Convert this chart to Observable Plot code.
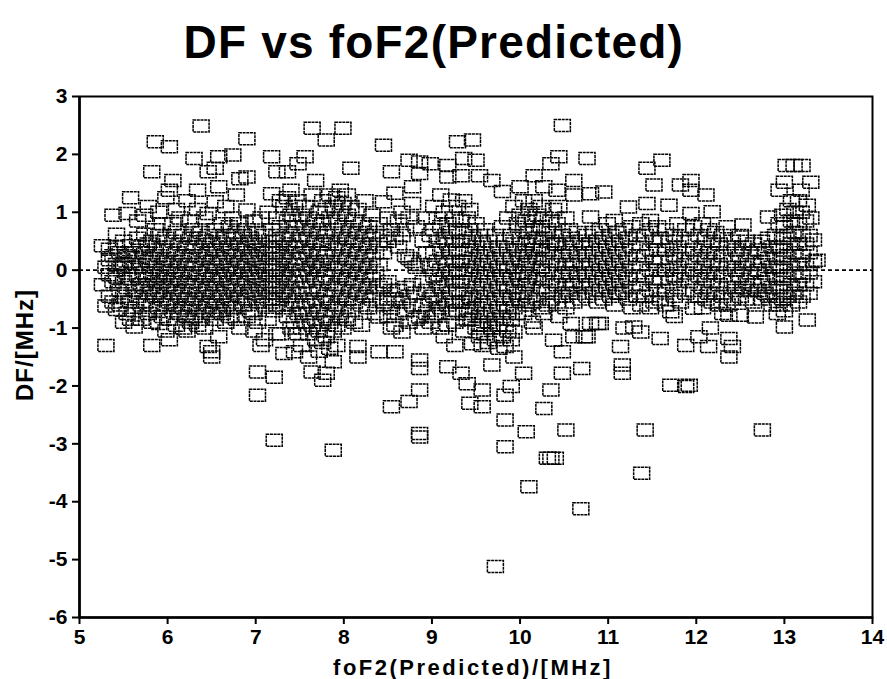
<!DOCTYPE html>
<html>
<head>
<meta charset="utf-8">
<script src="https://cdn.jsdelivr.net/npm/d3@7"></script>
<script src="https://cdn.jsdelivr.net/npm/@observablehq/plot@0.6"></script>
<style>
  html, body { margin: 0; padding: 0; background: #fff; }
  #chart { width: 887px; height: 679px; }
</style>
</head>
<body>
<div id="chart"></div>
<script>
// ---- Data: foF2 (predicted, MHz) columns, each with the DF values (MHz) read at that foF2 ----
const titleText = "DF vs foF2(Predicted)";
const xLabel = "foF2(Predicted)/[MHz]";
const yLabel = "DF/[MHz]";
const xTicks = [5, 6, 7, 8, 9, 10, 11, 12, 13, 14];
const yTicks = [-6, -5, -4, -3, -2, -1, 0, 1, 2, 3];

const band5 = [
  [5.26, [0.42, -0.25]],
  [5.30, [-0.62, 0.05, -1.30]],
  [5.34, [0.36, -0.45, 0.18, -0.08]],
  [5.38, [-0.55, 0.25, -0.2, 0.95]],
  [5.42, [0.62, -0.12, -0.68, 0.1, 0.4]],
  [5.46, [-0.35, 0.05, 0.3, -0.6]],
  [5.50, [0.5, -0.2, 0.12, -0.45, -0.9]],
  [5.54, [0.25, -0.05, -0.3, 0.98, -0.75]],
  [5.58, [1.25, 0.42, -0.15, 0.15, -0.55, -0.85]],
  [5.62, [0.05, -0.35, 0.3, -0.7, -0.98]],
  [5.66, [0.55, 0.22, -0.1, -0.45, 0.85]],
  [5.70, [-0.25, 0.1, 0.4, -0.6, -0.85]],
  [5.74, [0.62, 0.3, -0.05, -0.3, -0.55, 0.95]],
  [5.78, [1.1, 0.15, -0.15, -0.4, -0.75, 0.45]],
  [5.82, [0.5, 0.2, -0.05, -0.3, -0.6, -0.9, 1.7, -1.3]],
  [5.86, [0.35, 0.05, -0.2, -0.45, 0.7, 2.22]],
  [5.90, [0.6, 0.25, -0.1, -0.35, -0.65, -0.92, 1.0]],
  [5.94, [0.4, 0.1, -0.2, -0.5, -0.8, 0.8]],
  [5.98, [0.55, 0.2, -0.05, -0.3, -0.6, -1.05, 1.25]]
];

const band6 = [
  [6.02, [2.13, 1.38, 0.35, 0.05, -0.25, -0.55, -0.85, -1.2]],
  [6.06, [1.55, 0.8, 0.5, 0.15, -0.15, -0.4, -0.7]],
  [6.10, [0.65, 0.3, 0.0, -0.3, -0.6, -0.95, 1.05]],
  [6.14, [0.45, 0.15, -0.15, -0.45, -0.75, 0.9]],
  [6.18, [0.6, 0.25, -0.05, -0.35, -0.65, -1.0]],
  [6.22, [0.4, 0.1, -0.2, -0.5, -0.8, -1.05, 1.2]],
  [6.26, [0.55, 0.25, -0.05, -0.3, -0.6, -0.9, 0.85]],
  [6.30, [1.93, 0.7, 0.4, 0.1, -0.2, -0.5, -0.8]],
  [6.34, [1.38, 0.55, 0.25, -0.05, -0.35, -0.65, -0.95, 1.05]],
  [6.38, [2.49, 0.65, 0.35, 0.05, -0.25, -0.55, -0.85]],
  [6.42, [0.5, 0.2, -0.1, -0.4, -0.7, -1.0, 0.9]],
  [6.46, [1.7, 0.98, 0.6, 0.3, 0.0, -0.3, -0.6, -1.32]],
  [6.50, [0.45, 0.15, -0.15, -0.45, -0.75, -1.5, -1.41]],
  [6.54, [1.76, 1.18, 0.7, 0.35, 0.05, -0.25, -0.55, -0.85]],
  [6.58, [1.96, 1.44, 0.55, 0.2, -0.1, -0.4, -0.7, -1.15]],
  [6.62, [0.8, 0.45, 0.15, -0.15, -0.45, -0.75]],
  [6.66, [1.1, 0.6, 0.3, 0.0, -0.3, -0.6, -0.9]],
  [6.70, [0.75, 0.4, 0.1, -0.2, -0.5, -0.8]],
  [6.74, [1.99, 0.9, 0.55, 0.25, -0.05, -0.35, -0.65]],
  [6.78, [1.3, 0.65, 0.35, 0.05, -0.25, -0.55, -0.85]],
  [6.82, [1.58, 0.8, 0.45, 0.15, -0.15, -0.45, -1.0]],
  [6.86, [0.6, 0.3, 0.0, -0.3, -0.6]],
  [6.90, [2.27, 1.61, 1.04, 0.7, 0.4, 0.1, -0.2, -0.5, -0.8]],
  [6.94, [0.55, 0.25, -0.05, -0.35, -0.7]],
  [6.98, [0.85, 0.5, 0.2, -0.1, -0.4, -0.75, -1.05]]
];

const band7 = [
  [7.02, [0.65, 0.35, 0.05, -0.25, -0.55, -0.9, -2.16, -1.76]],
  [7.06, [0.9, 0.45, 0.15, -0.15, -0.45, -1.3]],
  [7.10, [0.6, 0.3, 0.0, -0.3, -0.6, -1.2]],
  [7.14, [1.0, 0.4, 0.1, -0.2, -0.5, -0.85]],
  [7.18, [1.96, 1.32, 0.7, 0.35, 0.05, -0.25, -0.55]],
  [7.21, [-2.94, -1.85, 0.5, 0.2, -0.1, -0.4, -0.7]],
  [7.24, [1.7, 0.9, 0.6, 0.3, 0.0, -0.3, -0.6, -1.1]],
  [7.28, [1.2, 0.75, 0.4, 0.1, -0.2, -0.5, -1.1]],
  [7.32, [1.1, 0.55, 0.25, -0.05, -0.35, -0.65, -1.44]],
  [7.36, [1.7, 1.25, 0.85, 0.45, 0.15, -0.15, -0.45, -0.8]],
  [7.40, [1.38, 0.95, 0.6, 0.3, 0.0, -0.3, -0.6, -1.0]],
  [7.44, [1.1, 0.75, 0.4, 0.1, -0.2, -0.55, -0.9, -1.41]],
  [7.48, [1.84, 1.2, 0.85, 0.5, 0.2, -0.1, -0.4, -0.75, -1.1]],
  [7.52, [0.95, 0.6, 0.3, 0.0, -0.3, -0.65, -1.0, -1.3]],
  [7.56, [1.96, 1.1, 0.75, 0.4, 0.1, -0.2, -0.55, -0.9]],
  [7.60, [0.9, 0.55, 0.25, -0.05, -0.4, -0.75, -1.1, -1.5]],
  [7.64, [2.45, 1.3, 0.7, 0.35, 0.05, -0.3, -0.6, -0.95, -1.76]],
  [7.68, [1.55, 0.85, 0.5, 0.15, -0.15, -0.5, -0.85, -1.2]],
  [7.72, [1.0, 0.65, 0.3, 0.0, -0.35, -0.7, -1.05, -1.4]],
  [7.76, [-1.9, 1.2, 0.8, 0.45, 0.1, -0.2, -0.55, -0.9, -1.25]],
  [7.80, [2.25, 1.05, 0.6, 0.25, -0.1, -0.45, -0.8, -1.15, -1.78]],
  [7.84, [1.3, 0.9, 0.5, 0.15, -0.2, -0.55, -0.9, -1.35]],
  [7.88, [-3.11, -1.58, 1.1, 0.7, 0.35, 0.0, -0.35, -0.7, -1.05]],
  [7.92, [1.25, 0.85, 0.45, 0.1, -0.25, -0.6, -0.95, -1.3]],
  [7.96, [1.38, 1.0, 0.6, 0.25, -0.1, -0.45, -0.8]],
  [7.99, [2.45, 1.15, 0.75, 0.4, 0.05, -0.3, -0.65, -1.0]]
];

const band8 = [
  [8.04, [1.3, 0.95, 0.55, 0.2, -0.15, -0.5, -0.85]],
  [8.08, [1.76, 1.1, 0.7, 0.35, 0.0, -0.35, -0.7]],
  [8.12, [0.85, 0.5, 0.15, -0.2, -0.55, -0.9]],
  [8.16, [1.05, 0.65, 0.3, -0.05, -0.4, -1.32, -1.5]],
  [8.20, [0.8, 0.45, 0.1, -0.25, -0.6, -0.95]],
  [8.24, [1.2, 0.6, 0.25, -0.1, -0.45]],
  [8.28, [0.75, 0.4, 0.05, -0.3, -0.65]],
  [8.32, [0.95, 0.55, 0.2, -0.15, -0.5]],
  [8.36, [0.65, 0.3, -0.05, -0.4, -0.75]],
  [8.40, [0.8, 0.45, 0.1, -0.3, -0.81, -1.41]],
  [8.45, [2.16, 1.18, 0.6, 0.3, -0.25, -0.55]],
  [8.50, [0.9, 0.5, -0.2, -0.5, -0.8]],
  [8.54, [1.7, 0.7, -0.35, -0.65, -1.0, -2.36]],
  [8.58, [1.33, 0.55, -0.5, -0.95, -1.41]],
  [8.62, [0.85, 0.4, -0.35, -0.75]],
  [8.66, [1.0, 0.6, -0.55, -1.07]],
  [8.70, [0.7, 0.25, -0.3, -0.7]],
  [8.74, [1.9, 0.9, 0.2, -0.45, -0.9, -2.27]],
  [8.78, [1.44, 1.15, 0.15, -0.25, -0.6]],
  [8.82, [0.75, 0.05, -0.4, -0.85]],
  [8.86, [1.87, 1.67, -2.07, -2.82, -2.88, -1.55, -1.7, -0.81, 0.1]],
  [8.90, [0.5, -0.2, -0.6, -1.0]],
  [8.94, [0.9, 0.3, -0.35, -0.75]],
  [8.98, [1.84, 0.6, 0.05, -0.5, -0.9]]
];

const band9 = [
  [9.02, [1.1, 0.7, 0.3, -0.1, -0.45, -0.8]],
  [9.06, [0.9, 0.5, 0.15, -0.2, -0.55, -0.75]],
  [9.10, [1.3, 0.75, 0.35, 0.0, -0.29, -0.65, -1.0]],
  [9.14, [1.0, 0.55, 0.2, -0.15, -0.5, -1.15]],
  [9.18, [1.81, 1.61, 0.8, 0.45, 0.1, -0.25, -0.6, -0.95, -1.67]],
  [9.22, [1.21, 0.65, 0.3, -0.05, -0.4, -0.75]],
  [9.26, [0.9, 0.5, 0.15, -0.2, -0.55, -0.9, -1.3]],
  [9.29, [2.22, 1.1, 0.7, 0.35, 0.0, -0.35, -0.7]],
  [9.33, [1.63, 0.85, 0.5, 0.15, -0.2, -0.55, -1.78]],
  [9.36, [1.93, 1.2, 0.65, 0.3, -0.05, -0.4, -0.75, -1.05]],
  [9.40, [0.9, 0.5, 0.15, -0.2, -0.55, -0.86, -1.96]],
  [9.43, [-2.30, -0.46, 1.05, 0.7, 0.35, 0.0, -0.7]],
  [9.46, [2.25, -1.27, 0.55, 0.2, -0.15, -0.5, -0.85]],
  [9.50, [1.9, 0.8, 0.4, 0.05, -0.3, -0.65, -1.0]],
  [9.54, [1.63, 0.6, 0.25, -0.1, -0.45, -0.8, -0.95, -1.15]],
  [9.57, [-2.36, -2.07, 0.45, 0.1, -0.25, -0.6, -0.95, -1.3]],
  [9.60, [0.7, 0.3, -0.05, -0.4, -0.75, -1.1]],
  [9.64, [0.5, 0.15, -0.2, -0.55, -0.9, -1.25]],
  [9.68, [1.55, 0.35, 0.0, -0.35, -0.7, -1.0, -1.64]],
  [9.72, [-5.12, 0.6, 0.2, -0.15, -0.5, -0.85, -1.2]],
  [9.76, [0.4, 0.05, -0.3, -0.65, -0.95, -1.35]],
  [9.80, [1.36, 0.75, 0.25, -0.1, -0.45, -0.8, -1.15]],
  [9.83, [-3.05, -2.59, -2.16, -1.32, 0.5, 0.1, -0.25, -0.6, -0.95]],
  [9.86, [0.9, 0.35, 0.0, -0.35, -0.7, -1.05]],
  [9.90, [-2.01, 0.6, 0.2, -0.15, -0.5, -0.85, -1.2]],
  [9.93, [1.1, 0.45, 0.05, -0.3, -0.65, -1.07, -1.5]],
  [9.97, [0.8, 0.35, -0.05, -0.4, -0.75]]
];

const band10 = [
  [10.00, [1.44, 0.95, 0.55, 0.2, -0.15, -0.5]],
  [10.04, [-1.78, 1.2, 0.7, 0.3, -0.05, -0.4, -0.75]],
  [10.07, [-2.79, 0.85, 0.45, 0.1, -0.25, -0.6]],
  [10.10, [-3.74, 1.05, 0.65, 0.25, -0.1, -0.45]],
  [10.14, [0.9, 0.5, 0.15, -0.2, -0.55, -0.9]],
  [10.16, [1.63, -1.0, 1.2, 0.7, 0.35]],
  [10.20, [0.95, 0.55, 0.2, -0.15, -0.5]],
  [10.24, [1.1, 0.75, 0.4, 0.05, -0.3, -0.65]],
  [10.27, [1.44, -2.39, 0.9, 0.55, 0.2, -0.15, -0.75]],
  [10.31, [-3.25, 0.7, 0.35, 0.0, -0.35, -0.6]],
  [10.35, [1.84, -2.07, -3.25, 0.85, 0.5, 0.15, -0.2, -0.5]],
  [10.38, [-1.21, 1.05, 0.65, 0.3, -0.05, -0.4]],
  [10.40, [-3.25, 0.45]],
  [10.42, [1.38, 0.8, 0.45, 0.1, -0.25, -0.55]],
  [10.44, [1.96, 1.1, -0.8]],
  [10.48, [2.5, -1.41, -1.78, 0.6, 0.25, -0.1, -0.45]],
  [10.52, [-2.76, 0.9, 0.4, 0.05, -0.3, -0.65]],
  [10.56, [0.7, 0.3, -0.05, -0.4]],
  [10.58, [-0.92, 0.55, 0.15, -0.2]],
  [10.61, [1.3, 1.55, -1.15, 0.45, 0.1, -0.25, -0.55]],
  [10.65, [0.65, 0.3, -0.05, -0.4]],
  [10.69, [-4.12, 0.5, 0.15, -0.2, -0.5]],
  [10.70, [-1.7]],
  [10.73, [-1.15, 0.4, 0.05, -0.3]],
  [10.76, [1.93, -1.15, 0.6, 0.25, -0.1, -0.45]],
  [10.80, [1.32, 0.92, -0.92, 0.45, 0.1, -0.25]],
  [10.84, [0.65, 0.3, -0.05, -0.4]],
  [10.88, [-0.92, 0.5, 0.15, -0.2, -0.55]],
  [10.91, [-0.92, 0.7, 0.35, 0.0, -0.35]],
  [10.95, [1.35, 0.55, 0.2, -0.15, -0.5]],
  [10.99, [0.8, 0.4, 0.05, -0.3]]
];

const band11 = [
  [11.03, [0.6, 0.25, -0.1, -0.45]],
  [11.07, [0.86, 0.45, 0.1, -0.25, -0.6]],
  [11.11, [0.65, 0.3, -0.05, -0.4]],
  [11.14, [-1.32, -0.4, 0.5, 0.15, -0.2]],
  [11.16, [-1.64, -1.78]],
  [11.18, [-1.0, 0.7, 0.35, 0.0, -0.35]],
  [11.23, [1.09, 0.55, 0.2, -0.15, -0.5]],
  [11.27, [0.75, 0.4, 0.05, -0.3, -0.65]],
  [11.29, [-0.98]],
  [11.33, [0.6, 0.25, -0.1, -0.45]],
  [11.37, [-1.07, 0.8, 0.45, 0.1, -0.25, -0.6]],
  [11.38, [-3.51]],
  [11.42, [-2.76, 0.6, 0.25, -0.1, -0.45]],
  [11.44, [1.76, 1.15]],
  [11.48, [0.86, -0.35, 0.7, 0.35, 0.0, -0.65]],
  [11.52, [1.47, 0.5, 0.15, -0.2, -0.55]],
  [11.56, [0.75, 0.35, 0.0, -0.35]],
  [11.59, [-1.18, 0.55, 0.2, -0.15, -0.5]],
  [11.61, [1.9]],
  [11.65, [0.7, 0.35, 0.0, -0.35, -0.6]],
  [11.69, [1.12, 0.5, 0.15, -0.2]],
  [11.71, [-0.72, -1.99]],
  [11.75, [0.6, 0.25, -0.1, -0.45, -0.8]],
  [11.79, [0.8, 0.4, 0.05, -0.3]],
  [11.82, [1.47, 0.55, 0.2, -0.15, -0.55]],
  [11.88, [-1.3, -2.01, 0.7, 0.3, -0.05, -0.4]],
  [11.92, [-1.99, 0.5, 0.15, -0.2]],
  [11.94, [1.55, 1.38, 0.98]],
  [11.97, [0.75, 0.35, 0.0, -0.35, -0.66]]
];

const band12 = [
  [12.03, [-1.15, 0.6, 0.25, -0.1, -0.45]],
  [12.07, [0.8, 0.4, 0.05, -0.3, -0.65]],
  [12.11, [1.3, 0.55, 0.2, -0.15, -0.5]],
  [12.14, [-1.32, 0.7, 0.3, -0.05, -0.4]],
  [12.16, [-1.0]],
  [12.18, [1.01, 0.5, 0.15, -0.2, -0.55]],
  [12.22, [0.65, 0.3, -0.05, -0.4]],
  [12.26, [0.45, 0.1, -0.25, -0.6]],
  [12.30, [0.6, 0.25, -0.1, -0.45, -0.75]],
  [12.35, [0.75, 0.4, 0.05, -0.3, -0.6]],
  [12.37, [-0.78, -1.18, -1.5]],
  [12.41, [-1.32, 0.5, 0.15, -0.2, -0.5]],
  [12.45, [0.35, 0.0, -0.35]],
  [12.50, [-0.78, 0.6, 0.25, -0.1, -0.45]],
  [12.53, [0.78, 0.4, 0.05, -0.3]],
  [12.57, [0.5, 0.15, -0.2, -0.5]],
  [12.61, [0.3, -0.05, -0.35]],
  [12.65, [0.45, 0.1, -0.25, -0.55]],
  [12.67, [-0.81]],
  [12.70, [0.35, 0.0, -0.35]],
  [12.74, [0.5, 0.15, -0.2, -0.5]],
  [12.75, [-2.76]],
  [12.78, [0.3, -0.05, -0.4]],
  [12.82, [0.92, 0.55, 0.2, -0.15, -0.45]],
  [12.86, [0.4, 0.05, -0.3, -0.6]],
  [12.90, [0.6, 0.25, -0.1, -0.45]],
  [12.92, [-0.75]],
  [12.94, [1.38, 0.8, 0.4, 0.05, -0.3, -0.6]],
  [12.98, [0.95, 0.55, 0.2, -0.15, -0.5]]
];

const band13 = [
  [13.00, [1.52, -0.98, 0.75, 0.35, 0.0, -0.35, -0.7]],
  [13.02, [1.81]],
  [13.04, [1.05, 0.6, 0.25, -0.1, -0.45]],
  [13.08, [1.2, 0.85, 0.45, 0.1, -0.25, -0.6]],
  [13.11, [1.81]],
  [13.12, [1.0, 0.65, 0.3, -0.05, -0.4]],
  [13.16, [-0.55, 1.2, 0.8, 0.45, 0.1, -0.25]],
  [13.19, [1.38, 1.0]],
  [13.20, [1.81, 0.6, 0.25, -0.1, -0.45]],
  [13.24, [0.85, 0.45, 0.1, -0.25]],
  [13.26, [1.12, -0.86]],
  [13.28, [0.6, 0.3, -0.05, -0.4]],
  [13.30, [1.52, 0.9]],
  [13.33, [0.52, 0.15, -0.2]],
  [13.37, [0.17]]
];

// ---- Build point table ----
const columns = [...band5, ...band6, ...band7, ...band8, ...band9, ...band10, ...band11, ...band12, ...band13];
const points = columns.flatMap(([foF2, dfs]) => dfs.map(df => ({foF2, df})));

// Open rectangle marker (slightly wider than tall, as in the scan)
const rectSymbol = {
  draw(ctx) {
    const w = 8, h = 6;
    ctx.moveTo(-w, -h); ctx.lineTo(w, -h); ctx.lineTo(w, h); ctx.lineTo(-w, h); ctx.closePath();
  }
};

const font = "'Liberation Sans', Arial, Helvetica, sans-serif";

const chart = Plot.plot({
  width: 887,
  height: 679,
  marginTop: 96,
  marginBottom: 62,
  marginLeft: 79,
  marginRight: 15,
  style: {fontFamily: font, background: "#fff", color: "#000"},
  x: {domain: [5, 14]},
  y: {domain: [-6, 3]},
  marks: [
    Plot.ruleY([0], {stroke: "#000", strokeWidth: 1.6, strokeDasharray: "4,3"}),
    Plot.dot(points, {x: "foF2", y: "df", symbol: rectSymbol, r: 5, stroke: "#000", strokeWidth: 1.5, strokeDasharray: "3,0.7", fill: "none"}),
    Plot.frame({stroke: "#000", strokeWidth: 2}),
    Plot.ruleX([5], {stroke: "#000", strokeWidth: 2.6}),
    Plot.ruleY([-6], {stroke: "#000", strokeWidth: 2.6}),
    Plot.axisX({ticks: xTicks, tickSize: 7, tickPadding: 5, fontSize: 21, fontWeight: "bold", strokeWidth: 2, label: null, tickFormat: d => String(d)}),
    Plot.axisY({ticks: yTicks, tickSize: 7, tickPadding: 5, fontSize: 21, fontWeight: "bold", strokeWidth: 2, label: null, tickFormat: d => String(d)}),
    Plot.text([titleText], {frameAnchor: "top-left", textAnchor: "start", lineAnchor: "middle", dx: 104, dy: -53, fontSize: 46, fontWeight: "bold", fill: "#000"}),
    Plot.text([xLabel], {frameAnchor: "bottom", textAnchor: "middle", lineAnchor: "middle", dx: -3, dy: 50, fontSize: 22, fontWeight: "bold", fill: "#000"}),
    Plot.text([yLabel], {frameAnchor: "left", textAnchor: "middle", lineAnchor: "middle", dx: -54, dy: -12, rotate: -90, fontSize: 24, fontWeight: "bold", fill: "#000"})
  ]
});

document.getElementById("chart").appendChild(chart);

// letter spacing for the titles (text styling only)
d3.select(chart).selectAll("text").each(function () {
  const t = this.textContent;
  if (t === xLabel) this.setAttribute("letter-spacing", "2.5");
  if (t === yLabel) this.setAttribute("letter-spacing", "1");
  if (t === titleText) this.setAttribute("letter-spacing", "1.2");
});
</script>
</body>
</html>
